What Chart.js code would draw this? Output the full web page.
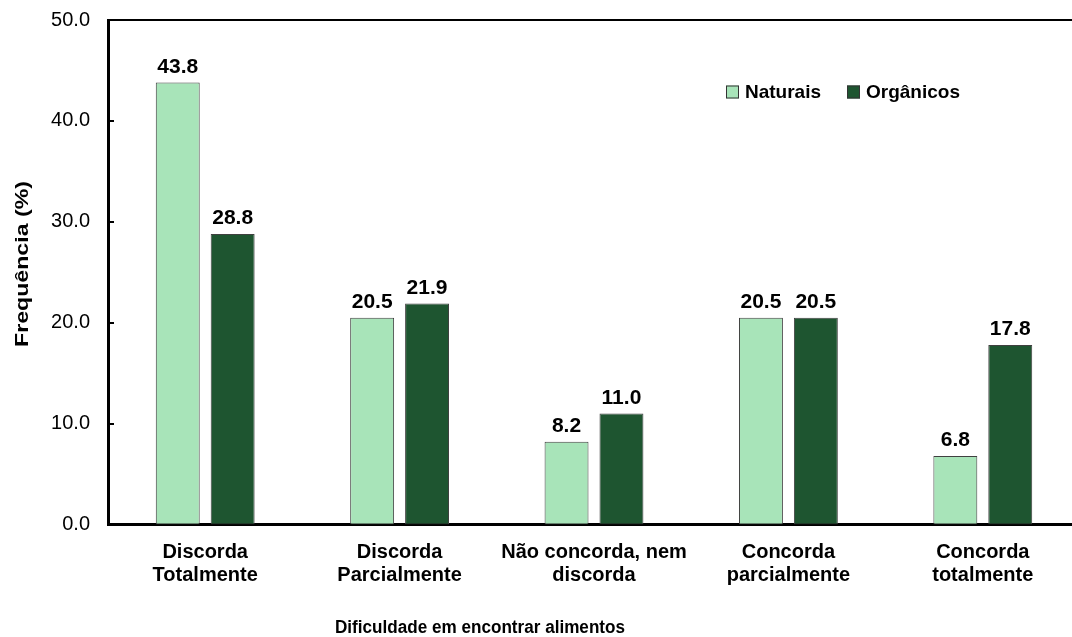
<!DOCTYPE html>
<html>
<head>
<meta charset="utf-8">
<script src="https://cdn.jsdelivr.net/npm/chart.js@4.4.0/dist/chart.umd.min.js"></script>
<style>
html,body{margin:0;padding:0;background:#fff;overflow:hidden;width:1072px;height:637px;}
canvas{display:block;}
</style>
</head>
<body>
<canvas id="c" width="1080" height="637"></canvas>
<script>
const categories = [['Discorda','Totalmente'], ['Discorda','Parcialmente'], ['Não concorda, nem','discorda'], ['Concorda','parcialmente'], ['Concorda','totalmente']];
const naturais = [43.8, 20.5, 8.2, 20.5, 6.8];
const organicos = [28.8, 21.9, 11.0, 20.5, 17.8];
const seriesNames = ['Naturais', 'Orgânicos'];
const yTicks = [0, 10, 20, 30, 40, 50];
const xTitle = 'Dificuldade em encontrar alimentos';
const yTitle = 'Frequência (%)';

const FONT = '"Liberation Sans", Arial, sans-serif';
const LIGHT = '#a8e4b9';
const DARK = '#1e5530';

function drawFitted(ctx, text, x, y, width, font, rot) {
  ctx.save();
  ctx.font = font;
  ctx.translate(x, y);
  if (rot) ctx.rotate(rot);
  const w = ctx.measureText(text).width;
  ctx.scale(width / w, 1);
  ctx.textAlign = 'center';
  ctx.textBaseline = 'middle';
  ctx.fillStyle = '#000';
  ctx.fillText(text, 0, 0);
  ctx.restore();
}

const extras = {
  id: 'extras',
  afterDraw(chart) {
    const ctx = chart.ctx;
    const a = chart.chartArea;
    const ys = chart.scales.y;
    ctx.save();
    ctx.strokeStyle = '#000';
    ctx.lineWidth = 2;
    ctx.beginPath();
    ctx.moveTo(a.left, a.top);
    ctx.lineTo(a.right, a.top);
    ctx.stroke();
    yTicks.forEach(v => {
      const py = Math.round(ys.getPixelForValue(v));
      ctx.beginPath();
      ctx.moveTo(a.left, py);
      ctx.lineTo(a.left + 6, py);
      ctx.stroke();
    });
    ctx.restore();
    ctx.save();
    ctx.font = 'bold 21px ' + FONT;
    ctx.fillStyle = '#000';
    ctx.textAlign = 'center';
    ctx.textBaseline = 'alphabetic';
    chart.data.datasets.forEach((ds, i) => {
      const meta = chart.getDatasetMeta(i);
      meta.data.forEach((el, j) => {
        ctx.fillText(ds.data[j].toFixed(1), el.x, el.y - 10);
      });
    });
    ctx.restore();
    ctx.save();
    const legendX = [726, 847];
    const legendY = 92;
    ctx.font = 'bold 19px ' + FONT;
    ctx.textBaseline = 'middle';
    ctx.textAlign = 'left';
    chart.data.datasets.forEach((ds, i) => {
      ctx.fillStyle = ds.backgroundColor;
      ctx.fillRect(legendX[i], legendY - 6.5, 13, 13);
      ctx.strokeStyle = '#333';
      ctx.lineWidth = 1;
      ctx.strokeRect(legendX[i] + 0.5, legendY - 6.5 + 0.5, 12, 12);
      ctx.fillStyle = '#000';
      ctx.fillText(ds.label, legendX[i] + 19, legendY + 1);
    });
    ctx.restore();
    drawFitted(ctx, xTitle, 480, 628, 290, 'bold 18px ' + FONT, 0);
    drawFitted(ctx, yTitle, 23, 264, 166, 'bold 19px ' + FONT, -Math.PI / 2);
  }
};

new Chart(document.getElementById('c'), {
  type: 'bar',
  data: {
    labels: categories,
    datasets: [
      { label: seriesNames[0], data: naturais, backgroundColor: LIGHT, borderColor: '#404040', borderWidth: 1, borderSkipped: false },
      { label: seriesNames[1], data: organicos, backgroundColor: DARK, borderColor: '#404040', borderWidth: 1, borderSkipped: false }
    ]
  },
  options: {
    responsive: false,
    maintainAspectRatio: false,
    animation: false,
    devicePixelRatio: 1,
    layout: { padding: { top: 20, right: 0, bottom: 0, left: 0 } },
    plugins: { legend: { display: false }, tooltip: { enabled: false }, title: { display: false } },
    datasets: { bar: { categoryPercentage: 0.565, barPercentage: 0.8 } },
    scales: {
      x: {
        grid: { display: false, drawTicks: false },
        border: { display: true, color: '#000', width: 3 },
        ticks: { color: '#000', font: { family: FONT, size: 20, weight: 'bold', lineHeight: 1.15 }, padding: 16, maxRotation: 0, autoSkip: false },
        afterFit(s) { s.height = 112.5; s.paddingLeft = 0; s.paddingRight = 0; }
      },
      y: {
        min: 0, max: 50,
        afterBuildTicks(s) { s.ticks = yTicks.map(v => ({ value: v })); },
        grid: { display: false, drawTicks: false },
        border: { display: true, color: '#000', width: 3 },
        ticks: { color: '#000', font: { family: FONT, size: 20 }, padding: 18, callback: v => Number(v).toFixed(1) },
        afterFit(s) { s.width = 108; s.paddingTop = 0; s.paddingBottom = 0; }
      }
    }
  },
  plugins: [extras]
});
</script>
</body>
</html>
